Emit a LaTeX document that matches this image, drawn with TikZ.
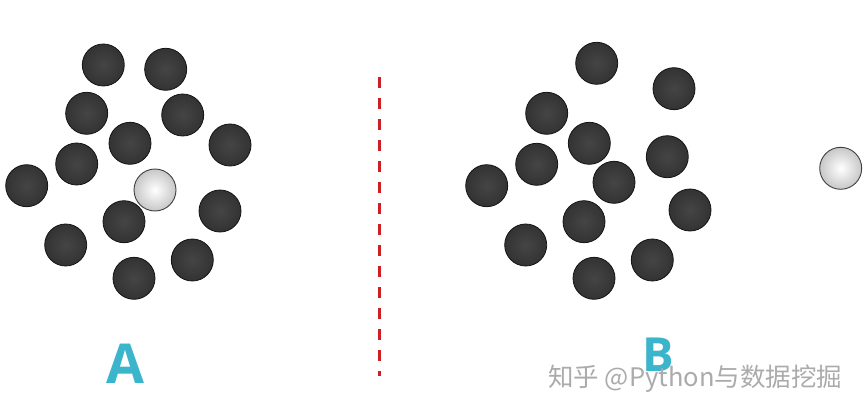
\documentclass[tikz,border=0pt]{standalone}
\usepackage{fontspec}
\setmainfont{Open Sans}
\newfontfamily\cjk{Noto Sans CJK SC}
\begin{document}
\begin{tikzpicture}[x=1pt,y=-1pt,
  darkball/.style={circle, minimum size=42pt, inner sep=0pt, draw=black!92, line width=0.8pt,
    inner color=black!73, outer color=black!80},
  whiteball/.style={circle, minimum size=42pt, inner sep=0pt, draw=black!75, line width=0.9pt,
    inner color=white, outer color=black!22},
  lbl/.style={text=labelblue, font=\bfseries},
  sep/.style={draw=sepred, line width=2.8pt, dash pattern=on 11pt off 10pt}]
\definecolor{labelblue}{HTML}{3AB5CB}
\definecolor{sepred}{HTML}{CC2025}
\useasboundingbox[fill=white] (0,0) rectangle (866,414);
% Panel A
\foreach \n/\x/\y in {a1/103.3/65, a2/165.7/69.3, a3/86.7/113.3, a4/182.7/115, a5/130/143.3,
  a6/230/145, a7/76.7/164, a8/26.7/185.7, a10/124/221.7, a11/220/211, a12/65.7/245,
  a13/192.3/260, a14/134/278.3}
  \node[darkball] (\n) at (\x,\y) {};
\node[whiteball] (aw) at (155,190) {};
% Panel B
\foreach \n/\x/\y in {b1/596.7/63.3, b2/674/88.7, b3/546.7/113.3, b4/589.3/143.3, b5/667.3/156.7,
  b6/536.7/164.3, b7/486.7/185.7, b8/614/182.3, b9/584/221.7, b10/690/210, b11/525.7/245,
  b12/652.3/260, b13/594/278.3}
  \node[darkball] (\n) at (\x,\y) {};
\node[whiteball] (bw) at (840.7,168.3) {};
% separator
\coordinate (s1) at (379.3,77);
\coordinate (s2) at (379.3,376);
\draw[sep] (s1) -- (s2);
% labels
\node[lbl, font=\bfseries\fontsize{55}{55}\selectfont, anchor=base] (la) at (125,383) {A};
\node[lbl, font=\bfseries\fontsize{47}{47}\selectfont, anchor=base] (lb) at (658,371) {B};
\node[text=black!33, font=\cjk\fontsize{25.5}{25.5}\selectfont, anchor=base west, inner sep=0pt] (wm) at (548,386) {知乎 @Python与数据挖掘};
\end{tikzpicture}
\end{document}
